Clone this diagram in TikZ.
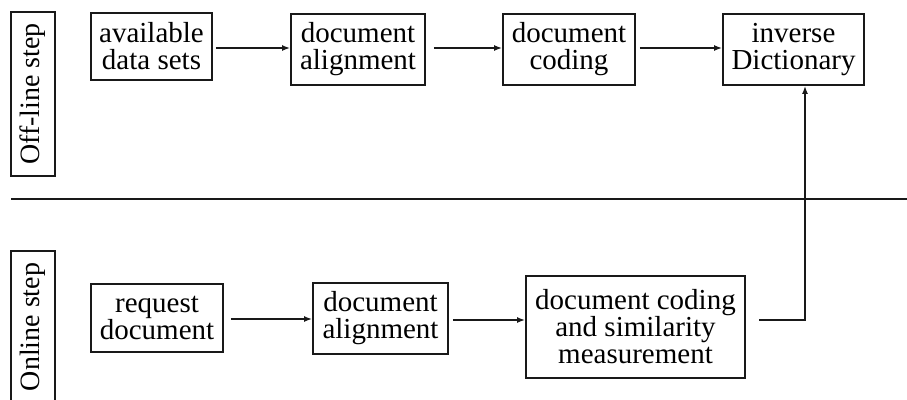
\documentclass[tikz,border=0pt]{standalone}
\usepackage{fontspec}
\setmainfont{Liberation Serif}
\usetikzlibrary{arrows.meta}
\begin{document}
\begin{tikzpicture}[x=1pt,y=-1pt,
  box/.style={draw=black!90, line width=1.8pt, align=center, inner sep=0pt,
    font=\fontsize{29}{27}\selectfont},
  lab/.style={draw=black!90, line width=1.8pt, inner sep=0pt, rotate=90,
    font=\fontsize{28}{27}\selectfont},
  arr/.style={line width=1.6pt, draw=black!90, -{Latex[length=8pt,width=6pt]}},
  ln/.style={line width=1.6pt, draw=black!90}]
\useasboundingbox (0,0) rectangle (907,399);
\node[lab, minimum width=164pt, minimum height=44pt] (off) at (33,94) {Off-line step};
\node[lab, minimum width=152pt, minimum height=44pt] (on) at (33,327) {Online step};
\coordinate (h1) at (11,199);
\coordinate (h2) at (907,199);
\draw[ln] (h1) -- (h2);
\node[box, minimum width=121pt, minimum height=67pt] (b1) at (151.5,46.5) {available\\data sets};
\node[box, minimum width=134pt, minimum height=71pt] (b2) at (358,49.5) {document\\alignment};
\node[box, minimum width=132pt, minimum height=71pt] (b3) at (569,49.5) {document\\coding};
\node[box, minimum width=141pt, minimum height=71pt] (b4) at (793.5,49.5) {inverse\\Dictionary};
\node[box, minimum width=132pt, minimum height=68pt] (b5) at (157,318) {request\\document};
\node[box, minimum width=135pt, minimum height=71pt] (b6) at (380.5,318.5) {document\\alignment};
\node[box, minimum width=219pt, minimum height=102pt] (b7) at (635.5,327) {document coding\\and similarity\\measurement};
\draw[arr] ([xshift=3pt]b1.east |- 0,48) -- (b2.west |- 0,48);
\draw[arr] ([xshift=8pt]b2.east |- 0,48) -- (b3.west |- 0,48);
\draw[arr] ([xshift=4pt]b3.east |- 0,48) -- (b4.west |- 0,48);
\draw[arr] ([xshift=7pt]b5.east |- 0,319) -- (b6.west |- 0,319);
\draw[arr] ([xshift=4pt]b6.east |- 0,320) -- (b7.west |- 0,320);
\coordinate (c1) at (759,320);
\coordinate (c2) at (805,320);
\draw[arr] (c1) -- (c2) -- (c2 |- b4.south);
\end{tikzpicture}
\end{document}
